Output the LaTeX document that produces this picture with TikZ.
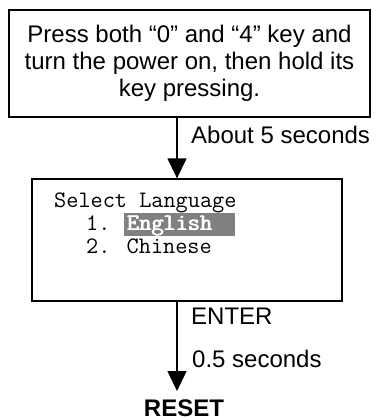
\documentclass[tikz,border=0pt]{standalone}
\usepackage{fontspec}
\setmainfont{Liberation Sans}
\usepackage{xcolor}
\usepackage{tikz}
\usetikzlibrary{arrows.meta,positioning}
\definecolor{selgray}{RGB}{128,128,128}
\newcommand{\heavy}[1]{\rlap{#1}\kern0.5pt\rlap{#1}\kern0.5pt#1}

\begin{document}
\begin{tikzpicture}[x=1pt,y=-1pt,
    box/.style={draw,line width=1.3pt,inner sep=0pt},
    flow/.style={line width=1.3pt,-{Triangle[width=19pt,length=20pt]}},
    lbl/.style={anchor=base west,inner sep=0pt,font=\fontsize{24}{27}\selectfont},
    menuline/.style={anchor=base west,inner sep=0pt,font=\ttfamily\fontsize{23.6}{23}\selectfont}]
  \useasboundingbox (0,0) rectangle (375,420);
  \coordinate (axis) at (177,0);
  % Power-on instruction
  \node[box,minimum width=361pt,minimum height=107pt,align=center,
        font=\fontsize{24}{27}\selectfont] (start) at (189.5,63.5)
    {Press both “0” and “4” key and\\turn the power on, then hold its\\key pressing.};
  % Language screen
  \node[box,minimum width=310pt,minimum height=122pt] (menu) at (187,240) {};
  \fill[selgray] (123.5,213) rectangle (235,235.5);
  \node[menuline] (sel) at (54,207) {Select Language};
  \node[menuline] (eng) at (86,230) {1. {\color{white}\heavy{English}}};
  \node[menuline] (chn) at (86,253) {2. Chinese};
  % Result
  \node[anchor=base,inner sep=0pt,inner ysep=8pt,
        font=\bfseries\fontsize{24}{27}\selectfont] (reset) at (184,416) {RESET};
  % Arrows and timings
  \draw[flow] (start.south -| axis) -- (menu.north -| axis);
  \draw[flow] (menu.south -| axis) -- (reset.north -| axis);
  \node[lbl] (wait) at (191,143) {About 5 seconds};
  \node[lbl] (enter) at (191,324) {ENTER};
  \node[lbl] (hold) at (192,367) {0.5 seconds};
\end{tikzpicture}
\end{document}
